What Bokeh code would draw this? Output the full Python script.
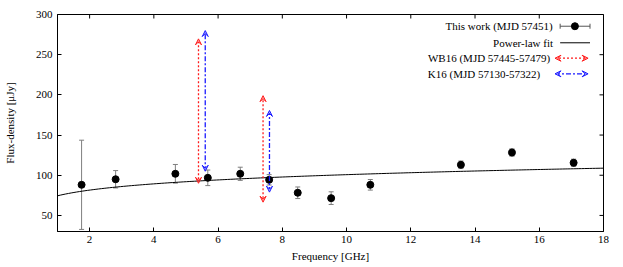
import numpy as np
from bokeh.plotting import figure
from bokeh.models import (FixedTicker, Range1d, Whisker, ColumnDataSource,
                          Arrow, VeeHead, TeeHead)
from bokeh.embed import file_html
from bokeh.resources import INLINE
from bokeh.core.properties import value

# ---- data ----
freq = [1.75, 2.81, 4.67, 5.68, 6.69, 7.59, 8.48, 9.52, 10.74, 13.56, 15.15, 17.07]
flux = [88.1, 95.0, 101.8, 96.8, 101.8, 94.3, 78.2, 71.5, 88.1, 113.0, 128.3, 115.5]
flux_err = [55.5, 10.8, 11.6, 9.7, 8.2, 6.5, 7.2, 7.9, 6.6, 4.7, 4.6, 4.5]

# power-law fit parameters S = A * nu^alpha
fit_A = 74.4
fit_alpha = 0.1315

# WB16 ranges (MJD 57445-57479)
wb16_freq = [5.39, 7.40]
wb16_lo = [90.0, 66.5]
wb16_hi = [269.7, 199.0]

# K16 ranges (MJD 57130-57322)
k16_freq = [5.60, 7.60]
k16_lo = [105.0, 79.0]
k16_hi = [280.0, 180.6]

x_ticks = [2, 4, 6, 8, 10, 12, 14, 16, 18]
y_ticks = [50, 100, 150, 200, 250, 300]

legend_labels = ["This work (MJD 57451)", "Power-law fit",
                 "WB16 (MJD 57445-57479)", "K16 (MJD 57130-57322)"]

FONT = "Liberation Serif"
FS = "11px"
XMIN, XMAX, YMIN, YMAX = 1, 18, 30, 300
RED = "#ff1a1a"
BLUE = "#1a1aff"

p = figure(width=623, height=267, x_range=Range1d(XMIN, XMAX), y_range=Range1d(YMIN, YMAX),
           output_backend="svg", toolbar_location=None,
           min_border_left=54, min_border_right=20, min_border_top=14, min_border_bottom=36)
p.background_fill_color = "white"
p.border_fill_color = "white"
p.outline_line_color = "black"
p.outline_line_width = 1
p.grid.visible = False

for ax in (p.xaxis[0], p.yaxis[0]):
    ax.major_tick_in = 4
    ax.major_tick_out = 0
    ax.minor_tick_line_color = None
    ax.axis_line_color = "black"
    ax.major_tick_line_color = "black"
    ax.major_label_text_font = FONT
    ax.major_label_text_font_size = FS
    ax.major_label_text_color = "black"
    ax.axis_label_text_font = FONT
    ax.axis_label_text_font_size = FS
    ax.axis_label_text_font_style = "normal"
    ax.axis_label_text_color = "black"

p.xaxis[0].ticker = FixedTicker(ticks=x_ticks)
p.yaxis[0].ticker = FixedTicker(ticks=y_ticks)
p.xaxis[0].axis_label = "Frequency [GHz]"
p.yaxis[0].axis_label = "Flux-density [\u03bcJy]"
p.xaxis[0].major_label_standoff = 4
p.xaxis[0].axis_label_standoff = 4
p.yaxis[0].major_label_standoff = 5
p.yaxis[0].axis_label_standoff = 17

# mirrored inward ticks on top and right edges (half of each dash falls outside the frame)
p.scatter(x=x_ticks, y=[YMAX] * len(x_ticks), marker="dash", angle=np.pi / 2, size=8,
          line_color="black", line_width=1)
p.scatter(x=[XMAX] * len(y_ticks), y=y_ticks, marker="dash", size=8,
          line_color="black", line_width=1)

# power-law fit curve
nu = np.linspace(XMIN, XMAX, 200)
p.line(nu, fit_A * nu ** fit_alpha, line_color="black", line_width=1)

# error bars
src = ColumnDataSource(dict(x=freq, y=flux,
                            lo=[f - e for f, e in zip(flux, flux_err)],
                            hi=[f + e for f, e in zip(flux, flux_err)]))
p.add_layout(Whisker(source=src, base="x", lower="lo", upper="hi",
                     line_color="#7f7f7f", line_width=1,
                     lower_head=TeeHead(size=5, line_color="#7f7f7f", line_width=1),
                     upper_head=TeeHead(size=5, line_color="#7f7f7f", line_width=1)))
p.scatter("x", "y", source=src, size=7, marker="circle", fill_color="black", line_color="black")


def head(color):
    return VeeHead(size=6, line_color=color, fill_color=color, fill_alpha=0.35, line_width=1)


def range_arrow(x0, y0, x1, y1, color, dash):
    p.add_layout(Arrow(x_start=x0, y_start=y0, x_end=x1, y_end=y1,
                       line_color=color, line_width=1.3, line_dash=dash,
                       start=head(color), end=head(color)))


for x, lo, hi in zip(wb16_freq, wb16_lo, wb16_hi):
    range_arrow(x, lo, x, hi, RED, "2 2")
for x, lo, hi in zip(k16_freq, k16_lo, k16_hi):
    range_arrow(x, lo, x, hi, BLUE, "5 2 2 2")

# ---- legend (gnuplot style: text right-aligned, sample to the right) ----
leg_y = [285.4, 264.8, 245.6, 226.2]
leg_text_x = [16.42, 16.43, 16.34, 16.03]
p.text(x=leg_text_x, y=leg_y, text=legend_labels, text_font=value(FONT), text_font_size=FS,
       text_align="right", text_baseline="middle", text_color="black")
sx0, sx1, sxm = 16.65, 17.58, 17.11
p.segment(x0=[sx0], y0=[leg_y[0]], x1=[sx1], y1=[leg_y[0]], line_color="#555555", line_width=1)
p.scatter([sx0, sx1], [leg_y[0], leg_y[0]], marker="dash", angle=np.pi / 2, size=5,
          line_color="#555555", line_width=1)
p.scatter([sxm], [leg_y[0]], size=7, marker="circle", fill_color="black", line_color="black")
p.segment(x0=[sx0], y0=[leg_y[1]], x1=[sx1], y1=[leg_y[1]], line_color="black", line_width=1)
range_arrow(16.49, leg_y[2], 17.52, leg_y[2], RED, "2 2")
range_arrow(16.49, leg_y[3], 17.52, leg_y[3], BLUE, "5 2 2 2")

open("out.html", "w").write(file_html(p, INLINE))
